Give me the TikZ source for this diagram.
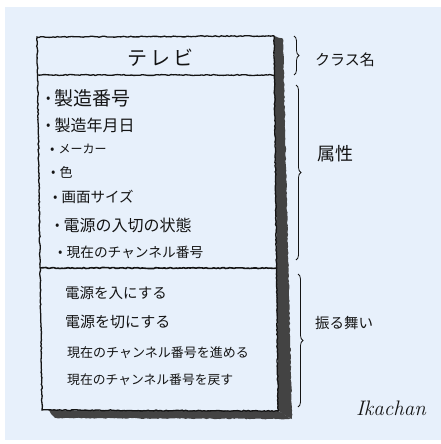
\documentclass[tikz,border=0pt]{standalone}
\usepackage{fontspec}
\newfontfamily\jp{Noto Sans CJK JP}
\usetikzlibrary{decorations.pathmorphing,decorations.pathreplacing}
\definecolor{bgblue}{HTML}{E7F0FB}
\definecolor{ink}{HTML}{141414}
\newcommand{\fsz}[1]{\jp\fontsize{#1}{#1}\selectfont}
\newcommand{\bul}{\raisebox{\dimexpr0.36em-4.2pt\relax}{\fontsize{13}{13}\selectfont •}\hspace{4pt}}
\tikzset{
  rough/.style={decorate,decoration={random steps,segment length=2pt,amplitude=0.5pt}},
  boxline/.style={draw=ink,line width=1.3pt,rough},
  bracegrp/.style={draw=ink,line width=0.8pt,decorate,decoration={brace,amplitude=5pt}},
  title/.style={font=\fsz{20},text=ink,inner sep=0pt},
  txt/.style={text=ink,anchor=west,inner sep=0pt},
  sig/.style={font=\itshape\fontsize{21}{21}\selectfont,text=ink,inner sep=0pt},
}
\begin{document}
\begin{tikzpicture}[x=1pt,y=-1pt]
\pgfmathsetseed{7}
\useasboundingbox (0,0) rectangle (441,444);
\fill[bgblue] (5,7) rectangle (441,440);
% shadow bands
\fill[ink!80,rough] (274,36) -- (283,39) -- (292,419) -- (278,411) -- cycle;
\fill[ink!80,rough] (48,410) -- (278,411) -- (292,419) -- (55,418) -- cycle;
% box outline
\coordinate (tl) at (37,37);
\coordinate (tr) at (274,36);
\coordinate (br) at (278,411);
\coordinate (bl) at (42,410);
\draw[boxline] (tl) -- (tr) -- (br) -- (bl) -- cycle;
% separators
\coordinate (s1l) at (37.5,75);
\coordinate (s1r) at (275,75);
\coordinate (s2l) at (40,268);
\coordinate (s2r) at (276.5,268);
\draw[boxline] (s1l) -- (s1r);
\draw[boxline,line width=1.6pt] (s2l) -- (s2r);
% title
\node[title] (name) at (160,58) {テ\hspace{3pt}レ\hspace{3pt}ビ};
% attributes
\node[txt,font=\fsz{19}] (a1) at (46,98) {\bul 製造番号};
\node[txt,font=\fsz{16}] (a2) at (46,125) {\bul 製造年月日};
\node[txt,font=\fsz{12}] (a3) at (50,149) {\bul メーカー};
\node[txt,font=\fsz{13}] (a4) at (51,172) {\bul 色};
\node[txt,font=\fsz{14.5}] (a5) at (53,197) {\bul 画面サイズ};
\node[txt,font=\fsz{16}] (a6) at (55,225) {\bul 電源の入切の状態};
\node[txt,font=\fsz{13.7}] (a7) at (58,252) {\bul 現在のチャンネル番号};
% operations
\node[txt,font=\fsz{14.5}] (o1) at (65,293) {電源を入にする};
\node[txt,font=\fsz{15}] (o2) at (65,322) {電源を切にする};
\node[txt,font=\fsz{13}] (o3) at (67,353) {現在のチャンネル番号を進める};
\node[txt,font=\fsz{12.8}] (o4) at (67,380) {現在のチャンネル番号を戻す};
% braces
\coordinate (b1t) at (294,36);
\coordinate (b1b) at (294,75);
\coordinate (b2t) at (296,85);
\coordinate (b2b) at (296,260);
\coordinate (b3t) at (298,274);
\coordinate (b3b) at (298,407);
\draw[bracegrp] (b1t) -- (b1b);
\draw[bracegrp] (b2t) -- (b2b);
\draw[bracegrp] (b3t) -- (b3b);
% labels
\node[txt,font=\fsz{15}] (l1) at (315,60) {クラス名};
\node[txt,font=\fsz{18}] (l2) at (317,154) {属性};
\node[txt,font=\fsz{14.5}] (l3) at (315,323) {振る舞い};
% signature
\node[sig] (s) at (391,408) {Ikachan};
\end{tikzpicture}
\end{document}
